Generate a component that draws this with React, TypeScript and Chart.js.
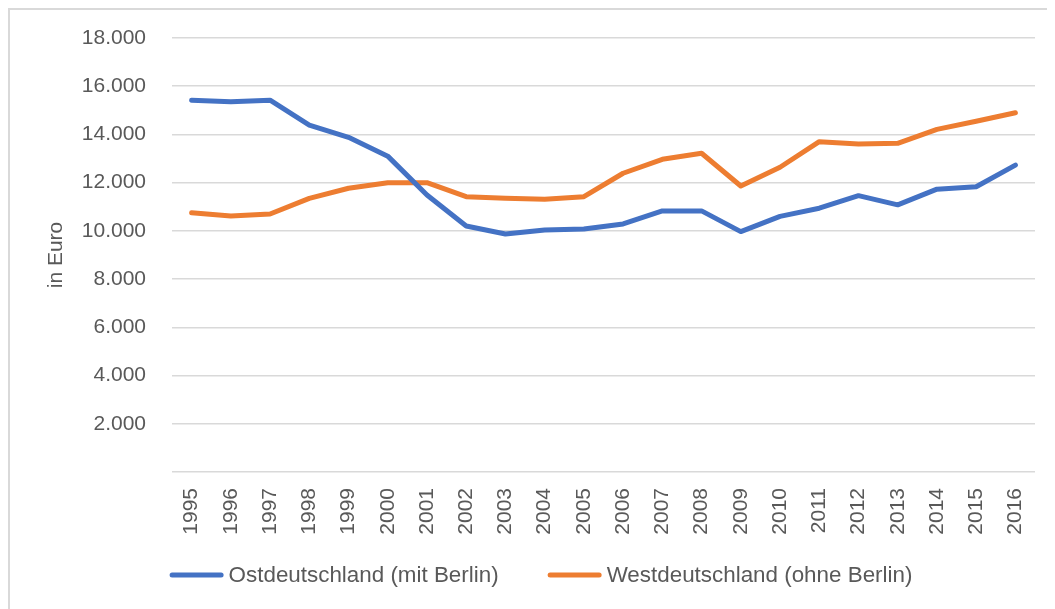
import React, { useEffect, useRef } from "react";
import { Chart, registerables } from "chart.js";

Chart.register(...registerables);

const years = [
  "1995", "1996", "1997", "1998", "1999", "2000", "2001", "2002", "2003", "2004", "2005",
  "2006", "2007", "2008", "2009", "2010", "2011", "2012", "2013", "2014", "2015", "2016",
];

const ostLabel = "Ostdeutschland (mit Berlin)";
const westLabel = "Westdeutschland (ohne Berlin)";

const ostValues = [
  15420, 15360, 15420, 14390, 13880, 13100, 11490, 10200, 9870, 10040, 10080,
  10290, 10830, 10830, 9970, 10600, 10940, 11460, 11080, 11730, 11830, 12730,
];

const westValues = [
  10750, 10620, 10700, 11350, 11770, 12000, 12000, 11420, 11350, 11310, 11420,
  12390, 12970, 13220, 11860, 12640, 13700, 13600, 13630, 14210, 14550, 14900,
];

const yMin = 0;
const yMax = 18000;
const yStep = 2000;

const textColor = "#595959";
const gridColor = "#d9d9d9";
const fontFamily = "'Liberation Sans', Arial, sans-serif";

function formatDe(v: number): string {
  if (v === 0) return "";
  const s = Math.round(v).toString();
  return s.replace(/\B(?=(\d{3})+(?!\d))/g, ".");
}

// Legend drawn below the axis labels, centred, with line-style swatches.
const legendPlugin = {
  id: "lineLegend",
  afterDraw(chart: any) {
    const ctx: CanvasRenderingContext2D = chart.ctx;
    const swatchW = 54;
    const textGap = 5;
    const itemGap = 49;
    const centerX = 533;
    const y = 567;
    ctx.save();
    ctx.font = `22.4px ${fontFamily}`;
    const items = chart.data.datasets.map((ds: any) => ({
      label: ds.label as string,
      color: ds.borderColor as string,
      w: ctx.measureText(ds.label).width,
    }));
    const total =
      items.reduce((s: number, it: any) => s + swatchW + textGap + it.w, 0) +
      itemGap * (items.length - 1);
    let x = centerX - total / 2;
    ctx.textBaseline = "middle";
    ctx.textAlign = "left";
    for (const it of items) {
      ctx.beginPath();
      ctx.strokeStyle = it.color;
      ctx.lineWidth = 5;
      ctx.lineCap = "round";
      ctx.moveTo(x + 2.5, y);
      ctx.lineTo(x + swatchW - 2.5, y);
      ctx.stroke();
      ctx.fillStyle = textColor;
      ctx.fillText(it.label, x + swatchW + textGap, y + 1);
      x += swatchW + textGap + it.w + itemGap;
    }
    ctx.restore();
  },
};

export default function App() {
  const ref = useRef<HTMLCanvasElement | null>(null);

  useEffect(() => {
    document.documentElement.style.overflow = "hidden";
    document.body.style.overflow = "hidden";
    const canvas = ref.current;
    if (!canvas) return;
    const chart = new Chart(canvas, {
      type: "line",
      data: {
        labels: years,
        datasets: [
          {
            label: ostLabel,
            data: ostValues,
            borderColor: "#4472C4",
            backgroundColor: "#4472C4",
            borderWidth: 5,
            pointRadius: 0,
            borderCapStyle: "round",
            borderJoinStyle: "round",
            tension: 0,
          },
          {
            label: westLabel,
            data: westValues,
            borderColor: "#ED7D31",
            backgroundColor: "#ED7D31",
            borderWidth: 5,
            pointRadius: 0,
            borderCapStyle: "round",
            borderJoinStyle: "round",
            tension: 0,
          },
        ],
      },
      options: {
        animation: false,
        responsive: false,
        maintainAspectRatio: false,
        layout: { padding: { top: 30, right: 20, bottom: 54.5, left: 0 } },
        plugins: {
          tooltip: { enabled: false },
          legend: { display: false },
        },
        scales: {
          x: {
            offset: true,
            grid: { display: false },
            border: { display: false },
            ticks: {
              color: textColor,
              font: { family: fontFamily, size: 21 },
              minRotation: 90,
              maxRotation: 90,
              padding: 8,
              autoSkip: false,
            },
            afterFit: (s: any) => {
              s.height = 82.5;
            },
          },
          y: {
            min: yMin,
            max: yMax,
            grid: {
              color: gridColor,
              lineWidth: 1.5,
              drawTicks: true,
              tickLength: 26,
              tickColor: "rgba(0,0,0,0)",
            },
            border: { display: false },
            ticks: {
              stepSize: yStep,
              padding: 0,
              color: textColor,
              font: { family: fontFamily, size: 21 },
              callback: (v: any) => formatDe(Number(v)),
            },
            title: {
              display: true,
              text: "in Euro",
              color: textColor,
              font: { family: fontFamily, size: 21 },
              padding: { top: 35.4, bottom: 0 },
            },
            afterFit: (s: any) => {
              s.width = 164;
            },
          },
        },
      },
      plugins: [legendPlugin],
    } as any);
    return () => chart.destroy();
  }, []);

  return (
    <div
      style={{
        position: "relative",
        width: 1047,
        height: 601,
        boxSizing: "border-box",
        borderTop: "2px solid #d9d9d9",
        borderLeft: "2px solid #d9d9d9",
      }}
    >
      <canvas
        ref={ref}
        width={1047}
        height={601}
        style={{ position: "absolute", top: -2, left: -2, width: 1047, height: 601 }}
      />
    </div>
  );
}
